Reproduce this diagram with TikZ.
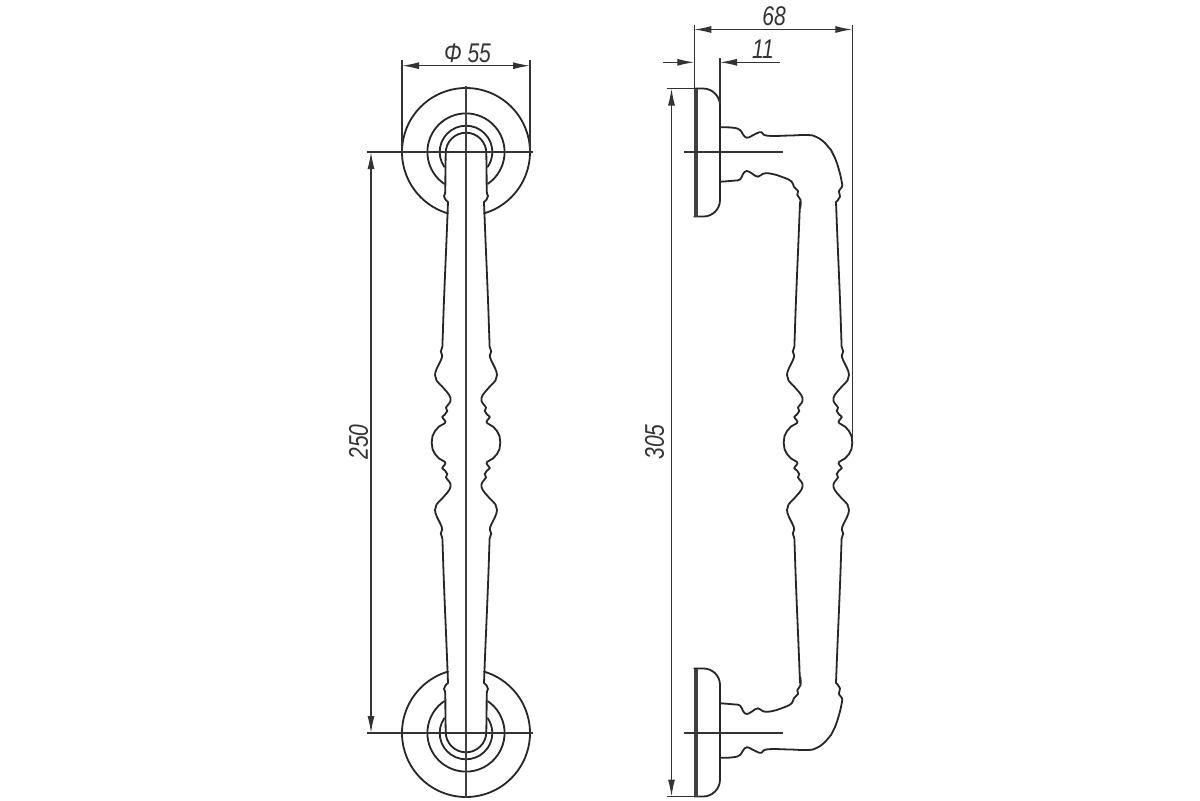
\documentclass[tikz,border=0pt]{standalone}
\usepackage{fontspec}
\setmainfont{Liberation Sans}
\usetikzlibrary{arrows.meta}
\newcommand{\narrow}[1]{\scalebox{0.78}[1]{#1}}
\newcommand{\profileside}{%
  \draw[outl] plot[smooth,tension=.8] coordinates {(18,202) (18.5,215) (19.5,240) (22,300) (23.4,340) (23.8,347) (25.2,351.5) (23.8,355.5) (25.5,361) (29,368) (31,375) (29.5,380.5) (24.3,386) (19,392) (15.5,398) (16.5,403) (20,407.5) (18.7,411) (21,414.5) (23.8,417) (21.5,420) (21,423) (27,426.5) (31,431) (33.5,436) (34.3,442.5)
  (33.5,449) (31,454) (27,458.5) (21,462) (21.5,465) (23.8,468) (21,470.5) (18.7,474) (20,477.5) (16.5,482) (15.5,487) (19,493) (24.3,499) (29.5,504.5) (31,510) (29,517) (25.5,524) (23.8,529.5) (25.2,533.5) (23.8,538) (23.4,545) (22,585) (19.5,645) (18.5,670) (18,683)};}
\newcommand{\leftend}{%
  \coordinate (c) at (466,152);
  \draw[outl] (c) ++(106.4:64) arc (106.4:433.6:64);
  \draw[outl] (c) ++(124.5:38.6) arc (124.5:415.5:38.6);
  \draw[outl] (c) ++(145.7:26.3) arc (145.7:394.3:26.3);
  \draw[outl] (445.7,153) arc (180:360:20.3);
  \foreach \s in {1,-1}{
    \begin{scope}[shift={(466,0)},xscale=\s]
      \draw[outl] plot[smooth,tension=.6] coordinates {(20.3,153) (20.6,175) (20.8,192) (22,196) (20.6,199.5) (18,202)};
    \end{scope}}
}
\newcommand{\rightend}{%
  \draw[outl] (694.3,88.5) -- (703,88.5) arc (-90:0:17) -- (720,200) arc (0:90:16.5) -- (694.3,216.5);
  \draw[plate] (696,88.5) -- (696,216.5);
  \draw[outl] plot[smooth,tension=.8] coordinates {(720.5,127.3) (733,127.7) (740,130) (743,134.5) (746.7,137.7) (751.5,136) (756.7,133.3) (761.7,132.3) (767.3,135.7) (790,135.5) (806.7,135) (816,136.8) (825,143) (831,150) (835,158) (839,170) (841.7,181.7) (841.9,187) (838.8,191.2) (840,196.7) (836,202)};
  \draw[outl] plot[smooth,tension=.8] coordinates {(720.5,181.7) (733,180.7) (740,179.5) (743,174) (746.7,171) (752,173.5) (758,176.7) (765,173.3) (776.7,175) (785,178) (791.7,181.7) (794,187) (798,191) (797.3,195) (800.5,200) (800.2,208)};
}
\tikzset{
  x=0.5pt,y=-0.5pt,
  outl/.style={line width=0.9pt,draw=black!85,line cap=round,line join=round},
  plate/.style={line width=1.8pt,draw=black!75},
  thinl/.style={line width=0.6pt,draw=black!80},
  axisl/.style={line width=0.8pt,draw=black!75},
  dimn/.style={line width=0.6pt,draw=black!80,{Latex[length=8.5pt,width=3.5pt]}-{Latex[length=8.5pt,width=3.5pt]}},
  dimr/.style={line width=0.6pt,draw=black!80,-{Latex[length=8.5pt,width=3.5pt]}},
  lbl/.style={font=\itshape\fontsize{13.5}{15}\selectfont,text=black!80,inner sep=0pt}
}
\begin{document}
\begin{tikzpicture}
\useasboundingbox (0,0) rectangle (1200,800);
\fill[white] (0,0) rectangle (1200,800);

% named reference points
\coordinate (a1) at (402,65.7);   \coordinate (a2) at (530,65.7);
\coordinate (a1e) at (402,60);    \coordinate (a1f) at (402,152);
\coordinate (a2e) at (530,60);    \coordinate (a2f) at (530,152);
\coordinate (h1l) at (367,152);   \coordinate (h1r) at (533,152);
\coordinate (h2l) at (367,733);   \coordinate (h2r) at (533,733);
\coordinate (vt) at (466,86);     \coordinate (vb) at (466,798);
\coordinate (d250a) at (371,152); \coordinate (d250b) at (371,733);
\coordinate (d305a) at (671.5,88.5); \coordinate (d305b) at (671.5,796.5);
\coordinate (e305a) at (666.5,88.5); \coordinate (e305af) at (694.3,88.5);
\coordinate (e305b) at (666.5,796.5); \coordinate (e305bf) at (694.3,796.5);
\coordinate (d68a) at (694.3,29.5); \coordinate (d68b) at (852.3,29.5);
\coordinate (e68a) at (694.3,25);   \coordinate (e68af) at (694.3,88.5);
\coordinate (e68b) at (852.3,25);   \coordinate (e68bf) at (852.3,438);
\coordinate (e11) at (720,58);      \coordinate (e11f) at (720,104);
\coordinate (d11l) at (663,62.3);   \coordinate (d11lt) at (694.3,62.3);
\coordinate (d11r) at (780,62.3);   \coordinate (d11rt) at (720,62.3);
\coordinate (r1l) at (684,152);     \coordinate (r1r) at (782.5,152);
\coordinate (r2l) at (684,733);     \coordinate (r2r) at (782.5,733);

% left view
\leftend
\begin{scope}[shift={(0,885)},yscale=-1]\leftend\end{scope}
\foreach \s in {1,-1}{
  \begin{scope}[shift={(466,0)},xscale=\s]\profileside\end{scope}}
\draw[axisl] (vt) -- (vb);
\draw[thinl] (h1l) -- (h1r);
\draw[thinl] (h2l) -- (h2r);
\draw[thinl] (a1e) -- (a1f);
\draw[thinl] (a2e) -- (a2f);
\draw[dimn] (a1) -- (a2);
\draw[dimn] (d250a) -- (d250b);
\node[lbl] (t55) at (467.5,53) {\narrow{Φ 55}};
\node[lbl,rotate=90] (t250) at (358.5,442) {\narrow{250}};

% right view
\rightend
\begin{scope}[shift={(0,885)},yscale=-1]\rightend\end{scope}
\foreach \s in {1,-1}{
  \begin{scope}[shift={(818,0)},xscale=\s]\profileside\end{scope}}
\draw[thinl] (r1l) -- (r1r);
\draw[thinl] (r2l) -- (r2r);
\draw[thinl] (e68a) -- (e68af);
\draw[thinl] (e68b) -- (e68bf);
\draw[thinl] (e11) -- (e11f);
\draw[thinl] (e305a) -- (e305af);
\draw[thinl] (e305b) -- (e305bf);
\draw[dimn] (d68a) -- (d68b);
\draw[dimr] (d11l) -- (d11lt);
\draw[dimr] (d11r) -- (d11rt);
\draw[dimn] (d305a) -- (d305b);
\node[lbl] (t68) at (774,16) {\narrow{68}};
\node[lbl] (t11) at (763,49.5) {\narrow{11}};
\node[lbl,rotate=90] (t305) at (654.5,442) {\narrow{305}};
\end{tikzpicture}
\end{document}
